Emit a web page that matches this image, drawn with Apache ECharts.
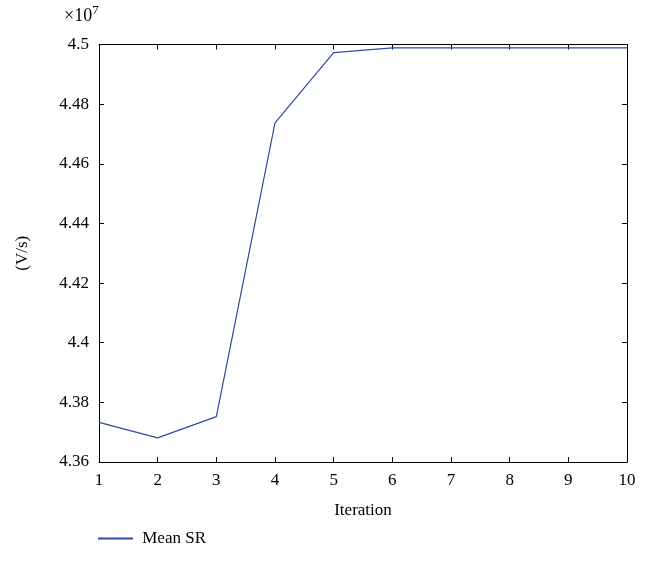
<!DOCTYPE html>
<html><head><meta charset="utf-8">
<script src="https://cdn.jsdelivr.net/npm/echarts@6/dist/echarts.min.js"></script>
<style>html,body{margin:0;padding:0;background:#fff}#c{width:651px;height:569px}</style>
</head><body><div id="c"></div>
<script>
const iterations = [1,2,3,4,5,6,7,8,9,10];
const meanSR = [4.3733,4.3681,4.3752,4.4737,4.4973,4.4989,4.4989,4.4989,4.4989,4.4989]; // ×10^7 V/s
const yTicks = {min:4.36, max:4.5, interval:0.02};
const font = 'Liberation Serif';
const chart = echarts.init(document.getElementById('c'));
const fmt = v => String(parseFloat(v.toFixed(2)));
chart.setOption({
  animation:false,
  grid:{left:99,right:24,top:44.5,bottom:107},
  legend:{data:['Mean SR'],left:93,top:525,itemWidth:35,itemHeight:2,icon:'rect',
    textStyle:{fontFamily:font,fontSize:17,color:'#000'},itemGap:10,
    formatter:n=>' '+n},
  xAxis:[{type:'value',min:1,max:10,interval:1,name:'Iteration',nameLocation:'middle',nameGap:40,
    nameTextStyle:{fontFamily:font,fontSize:17,color:'#000'},
    axisLine:{lineStyle:{color:'#000',width:1}},axisTick:{inside:true,length:5,lineStyle:{color:'#000'}},
    axisLabel:{fontFamily:font,fontSize:17,color:'#000',margin:10},splitLine:{show:false}},
   {type:'value',position:'top',min:1,max:10,interval:1,axisLine:{show:true,lineStyle:{color:'#000'}},
    axisTick:{inside:true,length:5,lineStyle:{color:'#000'}},axisLabel:{show:false},splitLine:{show:false}}],
  yAxis:[{type:'value',min:yTicks.min,max:yTicks.max,interval:yTicks.interval,name:'(V/s)',nameLocation:'middle',nameGap:68,nameRotate:90,
    nameTextStyle:{fontFamily:font,fontSize:17,color:'#000'},
    axisLine:{show:true,lineStyle:{color:'#000'}},axisTick:{show:true,inside:true,length:5,lineStyle:{color:'#000'}},
    axisLabel:{fontFamily:font,fontSize:17,color:'#000',margin:10,formatter:fmt},splitLine:{show:false}},
   {type:'value',position:'right',min:yTicks.min,max:yTicks.max,interval:yTicks.interval,
    axisLine:{show:true,lineStyle:{color:'#000'}},axisTick:{show:true,inside:true,length:5,lineStyle:{color:'#000'}},
    axisLabel:{show:false},splitLine:{show:false}}],
  graphic:[{type:'text',left:64,top:4,style:{text:'×10{s|7}',rich:{s:{fontSize:13,verticalAlign:'top',padding:[0,0,12,0],fontFamily:font}},
    font:'18px '+font,fill:'#000'}}],
  series:[{name:'Mean SR',type:'line',data:iterations.map((x,i)=>[x,meanSR[i]]),showSymbol:false,
    lineStyle:{color:'#2c4ba3',width:1.2},itemStyle:{color:'#2c4ba3'}}]
});
</script></body></html>
